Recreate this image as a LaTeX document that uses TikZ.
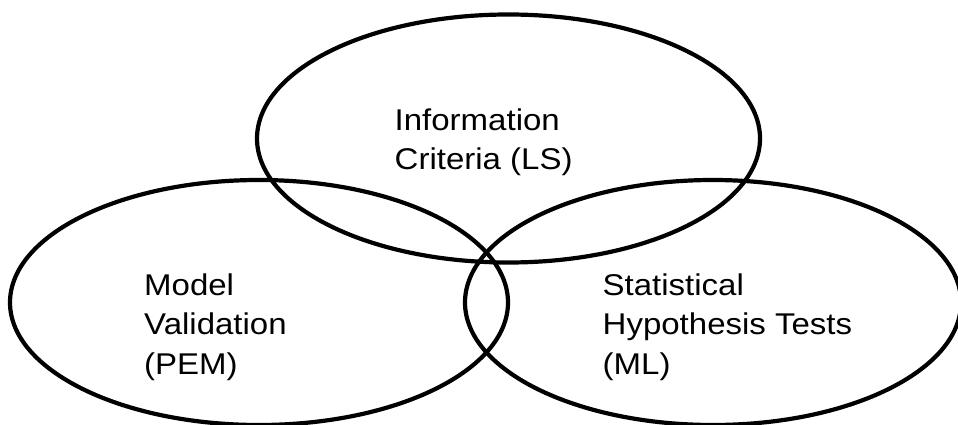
\documentclass[tikz,border=0pt]{standalone}
\usepackage{fontspec}
\newfontfamily\labfont[FakeStretch=1.1]{Liberation Sans}
\begin{document}
\begin{tikzpicture}[x=1pt,y=-1pt,
  setring/.style={draw=black,line width=4.2pt},
  setlabel/.style={anchor=base west,inner sep=0pt,align=left,
    font=\labfont\fontsize{30pt}{39.5pt}\selectfont}]
\useasboundingbox (0,0) rectangle (958,425);
\coordinate (ctop) at (508.5,138.5);
\coordinate (cleft) at (259,302.5);
\coordinate (cright) at (713,302.5);
\draw[setring] (ctop) ellipse [x radius=251.5, y radius=124];
\draw[setring] (cleft) ellipse [x radius=249, y radius=122.5];
\draw[setring] (cright) ellipse [x radius=248, y radius=122.5];
\node[setlabel] (info) at (394.5,169.5) {Information\\Criteria (LS)};
\node[setlabel] (model) at (144,374) {Model\\Validation\\(PEM)};
\node[setlabel] (stat) at (602.5,374) {Statistical\\Hypothesis Tests\\(ML)};
\end{tikzpicture}
\end{document}
